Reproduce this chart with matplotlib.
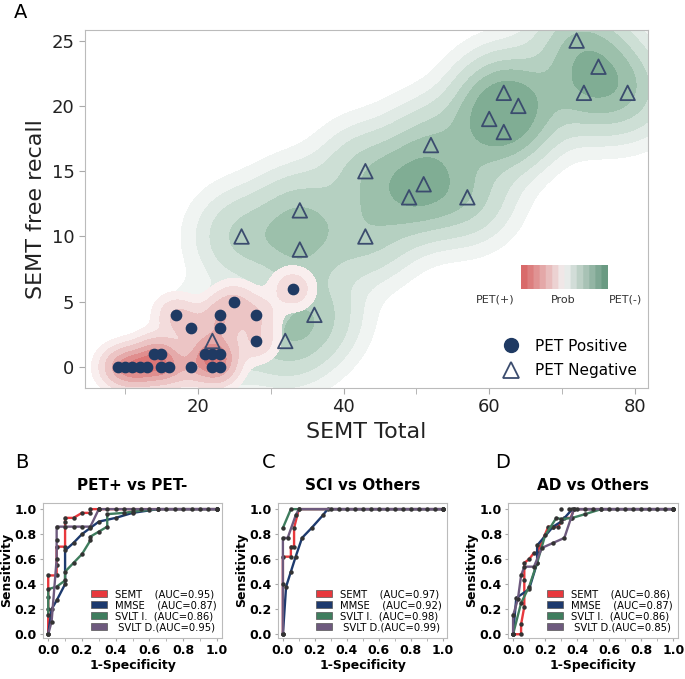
import numpy as np
import matplotlib.pyplot as plt
from matplotlib.colors import LinearSegmentedColormap
from matplotlib.lines import Line2D
from matplotlib.patches import Patch

# panel A data
pos_x = [9, 10, 11, 12, 13, 14, 15, 15, 16, 17, 19, 19, 21, 22, 23, 22, 23, 23, 23, 25, 28, 28, 33]
pos_y = [0, 0, 0, 0, 0, 1, 1, 0, 0, 4, 3, 0, 1, 1, 1, 0, 0, 4, 3, 5, 4, 2, 6]
neg_x = [22, 32, 36, 26, 34, 34, 43, 43, 49, 51, 52, 57, 60, 62, 62, 64, 72, 73, 75, 79]
neg_y = [2, 2, 4, 10, 12, 9, 15, 10, 13, 14, 17, 13, 19, 18, 21, 20, 25, 21, 23, 21]

# ROC data: (fpr, tpr) for each panel and test
tests = ["SEMT", "MMSE", "SVLT I.", "SVLT D."]
roc_colors = ["#e8383d", "#1d3a6e", "#3f7d5e", "#6e5a7e"]

roc_B = {
    "SEMT": ([0, 0, 0, 0, 0.05, 0.05, 0.05, 0.1, 0.1, 0.1, 0.15, 0.2, 0.25, 0.25, 0.3, 1.0],
             [0, 0.2, 0.3, 0.47, 0.47, 0.55, 0.7, 0.7, 0.9, 0.93, 0.93, 0.97, 0.97, 1.0, 1.0, 1.0]),
    "MMSE": ([0, 0.02, 0.05, 0.1, 0.1, 0.15, 0.2, 0.25, 0.3, 0.4, 0.5, 0.6, 0.65, 1.0],
             [0, 0.2, 0.27, 0.4, 0.67, 0.73, 0.8, 0.85, 0.9, 0.93, 0.97, 0.99, 1.0, 1.0]),
    "SVLT I.": ([0, 0, 0.05, 0.1, 0.1, 0.15, 0.2, 0.25, 0.25, 0.3, 0.35, 0.35, 0.45, 0.5, 0.65, 1.0],
                [0.15, 0.36, 0.38, 0.43, 0.5, 0.57, 0.64, 0.75, 0.78, 0.82, 0.86, 0.96, 0.97, 0.98, 1.0, 1.0]),
    "SVLT D.": ([0, 0.02, 0.05, 0.05, 0.05, 0.1, 0.15, 0.2, 0.25, 0.3, 1.0],
                [0, 0.1, 0.6, 0.75, 0.86, 0.86, 0.86, 0.86, 0.86, 1.0, 1.0]),
}
roc_C = {
    "SEMT": ([0, 0, 0.05, 0.05, 0.07, 0.07, 0.1, 1.0],
             [0, 0.62, 0.62, 0.7, 0.7, 0.85, 1.0, 1.0]),
    "MMSE": ([0, 0.02, 0.05, 0.08, 0.12, 0.18, 0.25, 0.28, 1.0],
             [0, 0.38, 0.5, 0.62, 0.77, 0.85, 0.95, 1.0, 1.0]),
    "SVLT I.": ([0, 0.05, 1.0],
                [0.85, 1.0, 1.0]),
    "SVLT D.": ([0, 0, 0, 0.03, 0.08, 0.1, 1.0],
                [0, 0.4, 0.77, 0.77, 0.95, 1.0, 1.0]),
}
roc_D = {
    "SEMT": ([0, 0.05, 0.05, 0.07, 0.07, 0.07, 0.1, 0.13, 0.15, 0.22, 0.25, 0.28, 0.32, 0.36, 0.38, 1.0],
             [0, 0, 0.08, 0.22, 0.43, 0.57, 0.6, 0.65, 0.65, 0.86, 0.86, 0.86, 0.93, 0.93, 1.0, 1.0]),
    "MMSE": ([0, 0.02, 0.1, 0.15, 0.15, 0.25, 0.3, 0.37, 1.0],
             [0, 0.29, 0.36, 0.57, 0.71, 0.86, 0.9, 1.0, 1.0]),
    "SVLT I.": ([0, 0.05, 0.1, 0.15, 0.2, 0.27, 0.3, 0.37, 0.45, 0.55, 1.0],
                [0, 0.25, 0.38, 0.57, 0.79, 0.93, 0.92, 0.93, 0.96, 1.0, 1.0]),
    "SVLT D.": ([0, 0, 0.03, 0.05, 0.07, 0.13, 0.18, 0.25, 0.32, 0.38, 1.0],
                [0, 0.15, 0.28, 0.47, 0.54, 0.54, 0.69, 0.73, 0.77, 1.0, 1.0]),
}
auc_B = [0.95, 0.87, 0.86, 0.95]
auc_C = [0.97, 0.92, 0.98, 0.99]
auc_D = [0.86, 0.87, 0.86, 0.85]
top_dots = np.arange(0.3, 1.01, 0.05)

fig = plt.figure(figsize=(6.85, 6.79), dpi=100)

# ---- panel A ----
ax = fig.add_axes([0.124, 0.4286, 0.822, 0.527])
xlim = (4.5, 81.8)
ylim = (-1.6, 25.8)
gx, gy = np.meshgrid(np.linspace(xlim[0], xlim[1], 400), np.linspace(ylim[0], ylim[1], 300))


def kde(xs, ys, sx, sy):
    d = np.zeros_like(gx)
    for a, b in zip(xs, ys):
        d += np.exp(-0.5 * (((gx - a) / sx) ** 2 + ((gy - b) / sy) ** 2))
    return d / d.max()


dn = kde(neg_x, neg_y, 4.0, 2.2)
dp = kde(pos_x, pos_y, 1.8, 0.95)
green_lv = [0.035, 0.09, 0.17, 0.3, 0.45, 0.65, 1.01]
green_cols = ["#f0f4f2", "#e0eae5", "#cddfd5", "#b5d0c1", "#9cc0ab", "#80ad94"]
red_lv = [0.04, 0.12, 0.25, 0.45, 0.65, 0.85, 1.01]
red_cols = ["#f9eeee", "#f3dcdc", "#ecc5c5", "#e5aaaa", "#e08e8e", "#dc7676"]
ax.contourf(gx, gy, dn, levels=green_lv, colors=green_cols)
ax.contourf(gx, gy, dp, levels=red_lv, colors=red_cols)

ax.scatter(pos_x, pos_y, s=55, marker='o', color="#1f3a63", zorder=3)
ax.scatter(neg_x, neg_y, s=110, marker='^', facecolors='none', edgecolors="#3b4c6e", linewidths=1.3, zorder=3)

ax.set_xlim(xlim)
ax.set_ylim(ylim)
ax.set_xticks([20, 40, 60, 80])
ax.set_xticks([10, 30, 50, 70], minor=True)
ax.set_yticks([0, 5, 10, 15, 20, 25])
ax.tick_params(axis='both', which='both', labelsize=13, colors='#222222', length=4, color='#aaaaaa')
for s in ax.spines.values():
    s.set_color('#bbbbbb')
ax.set_xlabel("SEMT Total", fontsize=16, color='#222222')
ax.set_ylabel("SEMT free recall", fontsize=16, color='#222222')

# gradient key
cax = fig.add_axes([0.7606, 0.5744, 0.127, 0.0353])
cmap = LinearSegmentedColormap.from_list("pp", ["#d96a6a", "#f2f2f2", "#6a9a82"], N=14)
cax.imshow(np.linspace(0, 1, 200)[None, :], aspect='auto', cmap=cmap)
cax.set_axis_off()
fig.text(495 / 685, 1 - 300 / 679, "PET(+)", fontsize=8, ha='center', va='center', color='#333333')
fig.text(563 / 685, 1 - 300 / 679, "Prob", fontsize=8, ha='center', va='center', color='#333333')
fig.text(625 / 685, 1 - 300 / 679, "PET(-)", fontsize=8, ha='center', va='center', color='#333333')

handles = [Line2D([], [], marker='o', ls='', color="#1f3a63", markersize=10),
           Line2D([], [], marker='^', ls='', markerfacecolor='none', markeredgecolor="#3b4c6e",
                  markeredgewidth=1.3, markersize=12)]
ax.legend(handles, ["PET Positive", "PET Negative"], loc='upper left', frameon=False,
          bbox_to_anchor=(482 / 685, 1 - 325 / 679), bbox_transform=fig.transFigure,
          fontsize=11, handletextpad=0.6, labelspacing=0.6)

fig.text(14 / 685, 1 - 12 / 679, "A", fontsize=14, ha='left', va='center')

# ---- ROC panels ----
panels = [
    ([0.063, 0.0604, 0.261, 0.199], roc_B, auc_B, "PET+ vs PET-", "B", 15),
    ([0.406, 0.0604, 0.247, 0.199], roc_C, auc_C, "SCI vs Others", "C", 262),
    ([0.742, 0.0604, 0.248, 0.199], roc_D, auc_D, "AD vs Others", "D", 495),
]
for rect, roc, aucs, title, letter, lx in panels:
    a = fig.add_axes(rect)
    for t, c in zip(tests, roc_colors):
        fx, ty = roc[t]
        a.plot(fx, ty, color=c, lw=1.7, marker='o', markersize=2.2,
               markerfacecolor='#333333', markeredgecolor='#333333')
    a.plot(top_dots, np.ones_like(top_dots), ls='', marker='o', markersize=2.2, color='#333333')
    a.set_xlim(-0.03, 1.03)
    a.set_ylim(-0.03, 1.05)
    a.set_xticks(np.arange(0, 1.01, 0.2))
    a.set_xticks(np.arange(0.1, 1.0, 0.2), minor=True)
    a.set_yticks(np.arange(0, 1.01, 0.2))
    a.tick_params(axis='both', which='both', labelsize=9, length=2.5, color='#aaaaaa', pad=2)
    for lab in a.get_xticklabels() + a.get_yticklabels():
        lab.set_fontweight('bold')
    for s in a.spines.values():
        s.set_color('#bbbbbb')
    a.set_xlabel("1-Specificity", fontsize=9, fontweight='bold', labelpad=1)
    a.set_ylabel("Sensitivity", fontsize=9, fontweight='bold', labelpad=1)
    a.set_title(title, fontsize=11, fontweight='bold', pad=9)
    hs = [Patch(facecolor=c, edgecolor='#555555', lw=0.5) for c in roc_colors]
    labs = ["SEMT    (AUC=%.2f)" % aucs[0], "MMSE    (AUC=%.2f)" % aucs[1],
            "SVLT I.  (AUC=%.2f)" % aucs[2], " SVLT D.(AUC=%.2f)" % aucs[3]]
    a.legend(hs, labs, loc='lower right', frameon=False, fontsize=7.2,
             handlelength=1.6, handleheight=0.7, labelspacing=0.1, borderaxespad=0.15, handletextpad=0.8)
    fig.text(lx / 685, 1 - 463 / 679, letter, fontsize=14, ha='left', va='center')

fig.savefig("out.png", dpi=100)
